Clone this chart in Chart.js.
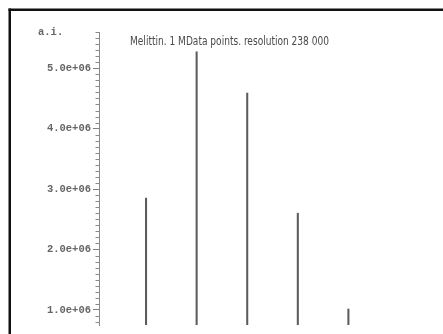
<!DOCTYPE html>
<html>
<head>
<meta charset="utf-8">
<script src="https://cdn.jsdelivr.net/npm/chart.js@4/dist/chart.umd.min.js"></script>
<style>
  html, body { margin: 0; padding: 0; background: #fff; }
  canvas { display: block; }
</style>
</head>
<body>
<canvas id="c" width="443" height="334"></canvas>
<script>
// ---- data ----
const chartTitle = "Melittin. 1 MData points. resolution 238 000";
const yAxisLabel = "a.i.";
const isotopePeaks = [0, 1, 2, 3, 4];                       // peak positions (isotope index)
const intensity = [2.85e6, 5.27e6, 4.59e6, 2.60e6, 1.015e6]; // peak heights (a.i.)
const yMajorTicks = [1e6, 2e6, 3e6, 4e6, 5e6];
const yMinorStep = 1e5;
const yRange = [0.75e6, 5.6e6];
const xRange = [-0.93, 5.87];

const isMajor = v => yMajorTicks.some(t => Math.abs(v - t) < 1);
const fmt = v => (v / 1e6).toFixed(1) + "e+06";

const framePlugin = {
  id: "frame",
  beforeDraw(chart) {
    const ctx = chart.ctx;
    ctx.save();
    ctx.fillStyle = "#fff";
    ctx.fillRect(0, 0, chart.width, chart.height);
    ctx.fillStyle = "#111";
    ctx.fillRect(8.5, 8.5, chart.width - 8.5, 2.5);
    ctx.fillRect(8.5, 8.5, 2.5, chart.height - 8.5);
    ctx.restore();
  },
  afterDraw(chart) {
    const ctx = chart.ctx;
    const y = chart.scales.y;
    ctx.save();
    // minor ticks (shorter than the labelled ones)
    ctx.strokeStyle = "#8a8a8a";
    ctx.lineWidth = 1;
    y.ticks.forEach(t => {
      if (isMajor(t.value)) return;
      const py = Math.round(y.getPixelForValue(t.value)) + 0.5;
      ctx.beginPath();
      ctx.moveTo(y.right - 3.5, py);
      ctx.lineTo(y.right, py);
      ctx.stroke();
    });
    // axis unit label
    ctx.fillStyle = "#666";
    ctx.font = "bold 10.5px 'Liberation Mono', 'DejaVu Sans Mono', monospace";
    ctx.textBaseline = "middle";
    ctx.textAlign = "left";
    ctx.fillText(yAxisLabel, 38, y.getPixelForValue(yRange[1]));
    // title (condensed plotter-like lettering)
    ctx.fillStyle = "#4a4a4a";
    ctx.font = "12px 'DejaVu Sans Condensed', 'Liberation Sans Narrow', 'Liberation Sans', sans-serif";
    const w = ctx.measureText(chartTitle).width;
    ctx.translate(130, 42);
    ctx.scale(199 / w, 1);
    ctx.fillText(chartTitle, 0, 0);
    ctx.restore();
  }
};

new Chart(document.getElementById("c"), {
  type: "bar",
  data: {
    datasets: [{
      data: isotopePeaks.map((x, i) => ({ x: x, y: intensity[i] })),
      backgroundColor: "#5c5c5c",
      borderWidth: 0,
      barThickness: 1.4
    }]
  },
  options: {
    responsive: false,
    animation: false,
    devicePixelRatio: 1,
    layout: { padding: { left: 0, top: 32, right: 0, bottom: 9 } },
    plugins: { legend: { display: false }, tooltip: { enabled: false }, title: { display: false } },
    scales: {
      x: { type: "linear", display: false, offset: false, min: xRange[0], max: xRange[1] },
      y: {
        type: "linear",
        min: yRange[0],
        max: yRange[1],
        afterBuildTicks(scale) {
          const ticks = [];
          for (let v = Math.ceil(yRange[0] / yMinorStep) * yMinorStep; v <= yRange[1] + 1; v += yMinorStep) {
            ticks.push({ value: Math.round(v) });
          }
          scale.ticks = ticks;
        },
        afterFit(scale) { scale.width = 99; },
        border: { display: true, color: "#8a8a8a", width: 1 },
        grid: {
          drawOnChartArea: false,
          drawTicks: true,
          tickLength: 6,
          tickColor: ctx => (ctx.tick && isMajor(ctx.tick.value)) ? "#808080" : "rgba(0,0,0,0)"
        },
        ticks: {
          autoSkip: false,
          padding: 2,
          color: "#666",
          font: { family: "'Liberation Mono', 'DejaVu Sans Mono', monospace", size: 10.5, weight: "bold" },
          callback: v => isMajor(v) ? fmt(v) : ""
        }
      }
    }
  },
  plugins: [framePlugin]
});
</script>
</body>
</html>
